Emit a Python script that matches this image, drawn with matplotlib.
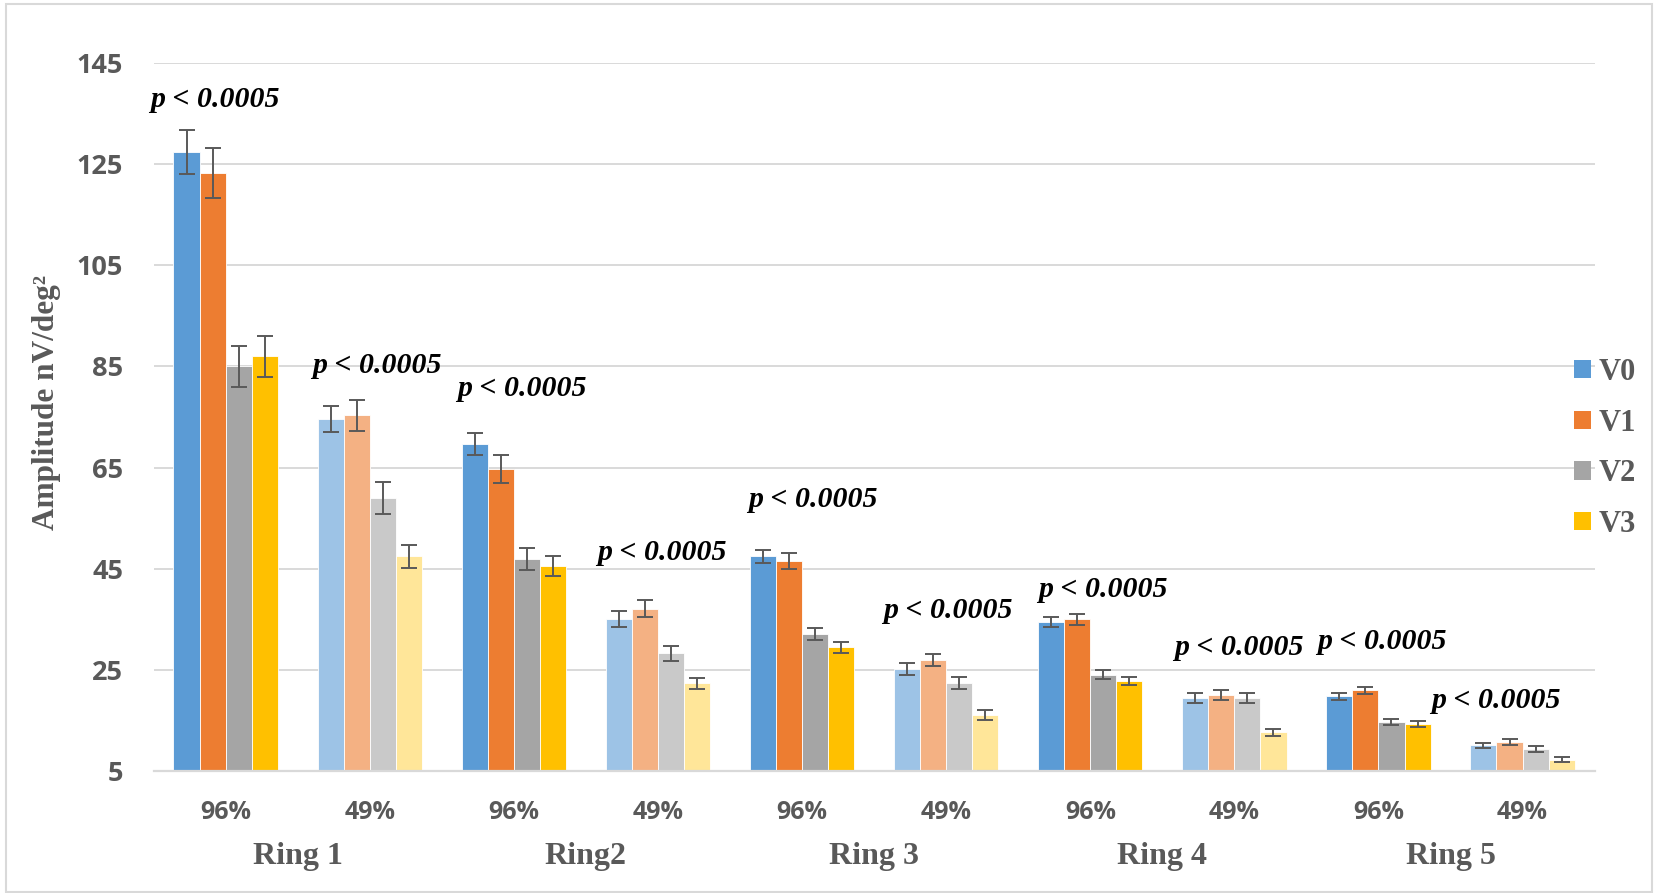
import matplotlib
matplotlib.use("Agg")
import matplotlib.pyplot as plt
import matplotlib.transforms as mtransforms
from matplotlib.patches import Patch, Rectangle
import numpy as np

# ---------------- data ----------------
rings = ["Ring 1", "Ring2", "Ring 3", "Ring 4", "Ring 5"]
contrasts = ["96%", "49%"]
series = ["V0", "V1", "V2", "V3"]

v0 = [127.4, 74.6, 69.6, 35.1, 47.5, 25.2, 34.5, 19.5, 19.8, 10.1]
v1 = [123.2, 75.3, 64.7, 37.1, 46.5, 27.0, 35.0, 20.0, 21.0, 10.8]
v2 = [85.0, 59.0, 46.9, 28.3, 32.1, 22.4, 24.1, 19.5, 14.7, 9.4]
v3 = [87.0, 47.5, 45.5, 22.4, 29.5, 16.1, 22.8, 12.7, 14.3, 7.3]

e0 = [4.4, 2.6, 2.2, 1.5, 1.3, 1.2, 1.0, 0.95, 0.75, 0.55]
e1 = [5.0, 3.1, 2.8, 1.7, 1.6, 1.1, 1.07, 1.0, 0.7, 0.6]
e2 = [4.05, 3.2, 2.2, 1.5, 1.2, 1.2, 0.94, 1.0, 0.56, 0.5]
e3 = [4.0, 2.3, 1.95, 1.1, 1.1, 0.95, 0.8, 0.7, 0.56, 0.48]

p_text = "p < 0.0005"
# annotation anchor (left edge, vertical centre) in data coordinates
p_x = [-0.525, 0.603, 1.605, 2.577, 3.625, 4.561, 5.637, 6.583, 7.574, 8.365]
p_y = [137.8, 85.2, 80.7, 48.2, 58.7, 36.7, 41.0, 29.5, 30.6, 18.9]

yticks = [5, 25, 45, 65, 85, 105, 125, 145]

# ---------------- style ----------------
dark = ["#5B9BD5", "#ED7D31", "#A5A5A5", "#FFC000"]
light = ["#9DC3E6", "#F4B183", "#C9C9C9", "#FFE699"]
gray_txt = "#595959"
grid_c = "#D9D9D9"
serif = ["Liberation Serif", "DejaVu Serif"]
sans = ["Open Sans", "DejaVu Sans"]

W, H = 1663, 893
fig = plt.figure(figsize=(W / 100, H / 100), dpi=100)
ax = fig.add_axes([153.6 / W, 1 - 771.3 / H, (1594.6 - 153.6) / W, (771.3 - 62.7) / H])

# figure border
fig.patches.append(Rectangle((6.4 / W, 1 - 891.5 / H), (1652 - 6.4) / W, (891.5 - 4) / H,
                             transform=fig.transFigure, fill=False, edgecolor=grid_c,
                             linewidth=1.5, zorder=0))

vals = [v0, v1, v2, v3]
errs = [e0, e1, e2, e3]
n = len(v0)
x = np.arange(n)
w = 0.181
for k in range(4):
    cols = [dark[k] if i % 2 == 0 else light[k] for i in range(n)]
    ax.bar(x + (k - 1.5) * w, vals[k], width=w, color=cols, edgecolor="white",
           linewidth=0.6, zorder=2,
           yerr=errs[k], error_kw=dict(ecolor="#595959", elinewidth=1.4,
                                       capsize=6, capthick=1.4, zorder=3))

ax.set_xlim(-0.5, n - 0.5)
ax.set_ylim(5, 145)
ax.set_yticks(yticks)
ax.set_yticklabels([str(t) for t in yticks])
ax.yaxis.grid(True, color=grid_c, linewidth=1.4, zorder=0)
ax.set_axisbelow(True)
for s in ["left", "right", "top"]:
    ax.spines[s].set_visible(False)
ax.spines["bottom"].set_color(grid_c)
ax.spines["bottom"].set_linewidth(1.6)
ax.tick_params(axis="y", length=0, pad=22, labelsize=19.5, labelcolor=gray_txt)
ax.tick_params(axis="x", length=0, pad=21, labelsize=18, labelcolor=gray_txt)
for lab in ax.get_yticklabels():
    lab.set_fontfamily(sans)
    lab.set_fontweight("bold")

ax.set_xticks(x)
ax.set_xticklabels([contrasts[i % 2] for i in range(n)])
for lab in ax.get_xticklabels():
    lab.set_fontfamily(sans)
    lab.set_fontweight("bold")

# ring labels
trans = mtransforms.blended_transform_factory(ax.transData, ax.transAxes)
for r, name in enumerate(rings):
    ax.text(2 * r + 0.5, (771.3 - 864) / 708.6, name, transform=trans, ha="center",
            va="baseline", fontsize=23, fontweight="bold", family=serif, color=gray_txt)

# p annotations
for px, py in zip(p_x, p_y):
    ax.text(px, py, p_text, ha="left", va="center", fontsize=21.5, fontweight="bold",
            fontstyle="italic", family=serif, color="black", clip_on=False, zorder=5)

# y label
fig.text(47 / W, 1 - 402 / H, "Amplitude nV/deg²", rotation=90, ha="center", va="center",
         fontsize=22.5, fontweight="bold", family=serif, color=gray_txt)

# legend
handles = [Patch(facecolor=dark[k], edgecolor="none") for k in range(4)]
leg = fig.legend(handles, series, loc="center left",
                 bbox_to_anchor=(1574 / W, 1 - 448.5 / H), frameon=False,
                 borderpad=0, borderaxespad=0, handlelength=0.55, handleheight=0.55,
                 handletextpad=0.25, labelspacing=0.71,
                 prop=dict(family=serif, weight="bold", size=22))
for t in leg.get_texts():
    t.set_color(gray_txt)

fig.savefig("out.png", dpi=100)
